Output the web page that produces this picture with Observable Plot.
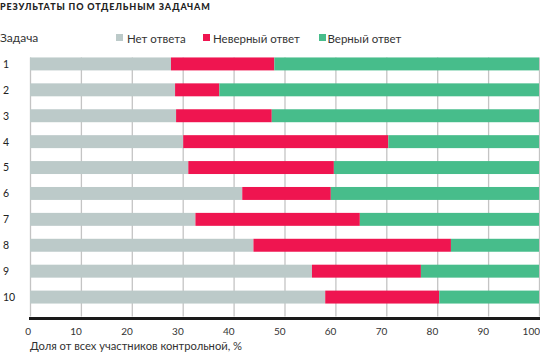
<!DOCTYPE html>
<html>
<head>
<meta charset="utf-8">
<script src="https://cdn.jsdelivr.net/npm/d3@7"></script>
<script src="https://cdn.jsdelivr.net/npm/@observablehq/plot@0.6"></script>
<style>
  html, body { margin: 0; padding: 0; background: #fff; }
  #wrap { position: relative; width: 540px; height: 353px; overflow: hidden; font-family: Lato, "Open Sans", sans-serif; color: #333; }
  #chart { position: absolute; left: 0; top: 0; }
  #title { position: absolute; left: 0; top: 0px; font-size: 9px; line-height: 13px; font-weight: 900; letter-spacing: 0.85px; color: #222; white-space: nowrap; }
  #task { position: absolute; left: 0; top: 30px; font-size: 12px; line-height: 16px; color: #333; }
  .leg { position: absolute; top: 30.5px; font-size: 11.5px; line-height: 16px; color: #333; white-space: nowrap; }
  .sw { position: absolute; top: 34px; width: 7px; height: 7px; }
  #xlabel { position: absolute; left: 30px; top: 337.5px; font-size: 11.2px; line-height: 15px; color: #333; white-space: nowrap; }
</style>
</head>
<body>
<div id="wrap">
  <div id="chart"></div>
  <div id="title">РЕЗУЛЬТАТЫ ПО ОТДЕЛЬНЫМ ЗАДАЧАМ</div>
  <div id="task">Задача</div>
  <div id="legend"></div>
  <div id="xlabel">Доля от всех участников контрольной, %</div>
</div>
<script>
const tasks = ["1", "2", "3", "4", "5", "6", "7", "8", "9", "10"];
const series = ["Нет ответа", "Неверный ответ", "Верный ответ"];
const colors = ["#bccac9", "#ef1550", "#47bd8b"];
const noAnswer = [27.7, 28.5, 28.7, 30.1, 31.1, 41.7, 32.5, 43.9, 55.4, 58.0];
const wrong    = [20.3,  8.7, 18.8, 40.3, 28.6, 17.4, 32.3, 38.8, 21.4, 22.4];
const correct  = [52.0, 62.8, 52.5, 29.6, 40.3, 40.9, 35.2, 17.3, 23.2, 19.6];
const xTicks = [0, 10, 20, 30, 40, 50, 60, 70, 80, 90, 100];

const values = [noAnswer, wrong, correct];
const data = tasks.flatMap((t, i) => series.map((s, j) => ({task: t, series: s, value: values[j][i]})));

const chart = Plot.plot({
  width: 540,
  height: 353,
  marginLeft: 30,
  marginRight: 1,
  marginTop: 44.5,
  marginBottom: 36.5,
  style: {fontFamily: "Lato, 'Open Sans', sans-serif", fontSize: "10px", color: "#333", background: "transparent"},
  x: {domain: [0, 100]},
  y: {domain: tasks, paddingInner: 0.5, paddingOuter: 0.5, round: false},
  color: {domain: series, range: colors},
  marks: [
    Plot.gridX(xTicks, {stroke: "#c4c4c4", strokeOpacity: 1, strokeWidth: 1.3, insetTop: 13}),
    Plot.barX(data, Plot.stackX({x: "value", y: "task", fill: "series", order: series})),
    Plot.axisX(xTicks, {tickSize: 0, tickPadding: 11, textAnchor: "end", dx: 0.5, label: null, fontSize: 10, fill: "#333"}),
    Plot.axisY({tickSize: 0, tickPadding: 27.5, textAnchor: "start", label: null, fontSize: 10.5, fill: "#222"}),
    Plot.frame({anchor: "bottom", stroke: "#1a1a1a", strokeWidth: 3, dy: 1.5})
  ]
});
document.getElementById("chart").appendChild(chart);

const legendX = [[116, 127], [202.5, 213], [318.5, 327.5]];
const legend = document.getElementById("legend");
series.forEach((s, i) => {
  const sw = document.createElement("div");
  sw.className = "sw";
  sw.style.left = legendX[i][0] + "px";
  sw.style.background = colors[i];
  legend.appendChild(sw);
  const t = document.createElement("div");
  t.className = "leg";
  t.style.left = legendX[i][1] + "px";
  t.textContent = s;
  legend.appendChild(t);
});
</script>
</body>
</html>
